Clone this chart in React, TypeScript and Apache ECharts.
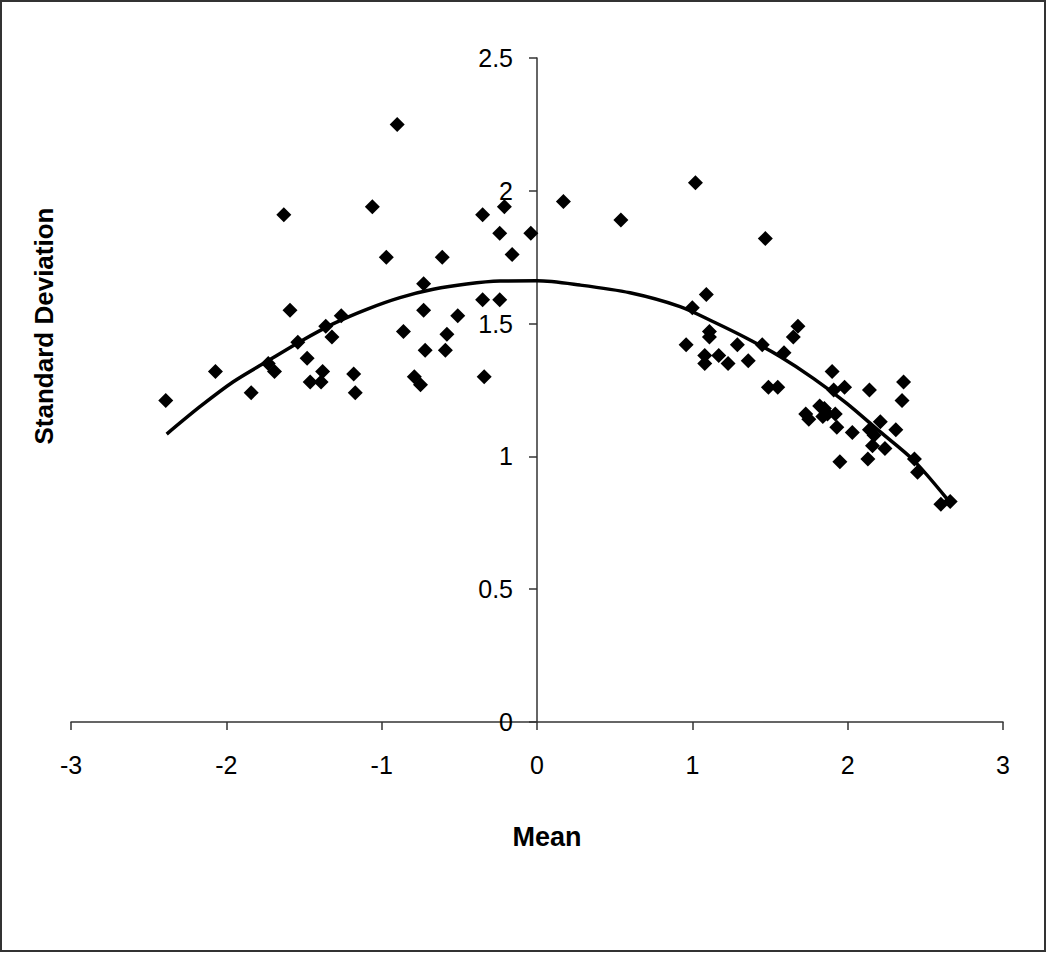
import React, { useEffect, useRef } from "react";
import * as echarts from "echarts";

const meanValues = [
  -2.39, -2.07, -1.84, -1.73, -1.69, -1.63, -1.59, -1.54, -1.48, -1.46, -1.39, -1.38, -1.36, -1.32, -1.26,
  -1.18, -1.17, -1.06, -0.97, -0.9, -0.86, -0.79, -0.75, -0.73, -0.73, -0.72, -0.61, -0.59, -0.58, -0.51,
  -0.35, -0.35, -0.34, -0.24, -0.24, -0.21, -0.16, -0.04, 0.17, 0.54,
  1.02, 1.47, 1.09, 1.0, 1.11, 1.11, 0.96, 1.29, 1.08, 1.17, 1.08, 1.23, 1.36, 1.45, 1.68, 1.65, 1.59,
  1.49, 1.55, 1.9, 1.98, 1.91, 2.14, 2.36, 2.35, 1.73, 1.75, 1.82, 1.85, 1.87, 1.92, 1.84, 1.93, 2.03,
  2.21, 2.31, 2.14, 2.17, 2.16, 2.24, 1.95, 2.13, 2.43, 2.45, 2.6, 2.66,
];
const sdValues = [
  1.21, 1.32, 1.24, 1.35, 1.32, 1.91, 1.55, 1.43, 1.37, 1.28, 1.28, 1.32, 1.49, 1.45, 1.53,
  1.31, 1.24, 1.94, 1.75, 2.25, 1.47, 1.3, 1.27, 1.65, 1.55, 1.4, 1.75, 1.4, 1.46, 1.53,
  1.91, 1.59, 1.3, 1.84, 1.59, 1.94, 1.76, 1.84, 1.96, 1.89,
  2.03, 1.82, 1.61, 1.56, 1.47, 1.45, 1.42, 1.42, 1.38, 1.38, 1.35, 1.35, 1.36, 1.42, 1.49, 1.45, 1.39,
  1.26, 1.26, 1.32, 1.26, 1.25, 1.25, 1.28, 1.21, 1.16, 1.14, 1.19, 1.18, 1.16, 1.16, 1.15, 1.11, 1.09,
  1.13, 1.1, 1.1, 1.08, 1.04, 1.03, 0.98, 0.99, 0.99, 0.94, 0.82, 0.83,
];

const trendMean = [-2.384, -2.17, -1.955, -1.74, -1.526, -1.31, -1.096, -0.882, -0.668, -0.453, -0.238, 0.0, 0.277, 0.599, 0.921, 1.135, 1.35, 1.564, 1.779, 1.994, 2.208, 2.423, 2.637];
const trendSd = [1.084, 1.187, 1.281, 1.357, 1.432, 1.5, 1.554, 1.598, 1.629, 1.649, 1.66, 1.661, 1.645, 1.616, 1.564, 1.507, 1.445, 1.376, 1.294, 1.2, 1.093, 0.986, 0.842];

const xTicks = [-3, -2, -1, 0, 1, 2, 3];
const yTicks = [0, 0.5, 1, 1.5, 2, 2.5];

export default function App() {
  const ref = useRef<HTMLDivElement>(null);
  useEffect(() => {
    if (!ref.current) return;
    const chart = echarts.init(ref.current, null, { renderer: "svg" });
    const scatterData = meanValues.map((m, i) => [m, sdValues[i]]);
    const trendData = trendMean.map((m, i) => [m, trendSd[i]]);
    const axisColor = "#333";
    const font = "Liberation Sans, Arial, sans-serif";
    chart.setOption({
      animation: false,
      backgroundColor: "#fff",
      textStyle: { fontFamily: font },
      grid: { left: 71, right: 47, top: 58, bottom: 235, containLabel: false },
      xAxis: {
        type: "value",
        min: xTicks[0],
        max: xTicks[xTicks.length - 1],
        interval: 1,
        splitLine: { show: false },
        axisLine: { onZero: true, lineStyle: { color: axisColor, width: 1.5 } },
        axisTick: { show: true, length: 8, lineStyle: { color: axisColor, width: 1.5 } },
        axisLabel: { color: "#000", fontSize: 25, margin: 30, fontFamily: font },
      },
      yAxis: {
        type: "value",
        min: yTicks[0],
        max: yTicks[yTicks.length - 1],
        interval: 0.5,
        offset: -466,
        splitLine: { show: false },
        axisLine: { show: true, onZero: false, lineStyle: { color: axisColor, width: 1.5 } },
        axisTick: { show: true, length: 8, lineStyle: { color: axisColor, width: 1.5 } },
        axisLabel: { color: "#000", fontSize: 25, margin: 24, fontFamily: font },
      },
      graphic: [
        {
          type: "rect",
          shape: { x: 1, y: 1, width: 1044, height: 950 },
          style: { fill: "none", stroke: "#333", lineWidth: 2 },
          silent: true,
        },
        {
          type: "text",
          x: 547,
          y: 837,
          style: {
            text: "Mean",
            font: "bold 27px " + font,
            fill: "#000",
            align: "center",
            verticalAlign: "middle",
          },
        },
        {
          type: "text",
          x: 44,
          y: 326,
          rotation: Math.PI / 2,
          style: {
            text: "Standard Deviation",
            font: "bold 26px " + font,
            fill: "#000",
            align: "center",
            verticalAlign: "middle",
          },
        },
      ],
      series: [
        {
          type: "line",
          data: trendData,
          smooth: 0.3,
          symbol: "none",
          lineStyle: { color: "#000", width: 3.5 },
          z: 2,
        },
        {
          type: "scatter",
          data: scatterData,
          symbol: "diamond",
          symbolSize: 15,
          itemStyle: { color: "#000", opacity: 1 },
          z: 3,
        },
      ],
    });
    return () => chart.dispose();
  }, []);
  return (
    <div
      ref={ref}
      style={{ position: "fixed", left: 0, top: 0, width: 1050, height: 957, background: "#fff" }}
    />
  );
}
